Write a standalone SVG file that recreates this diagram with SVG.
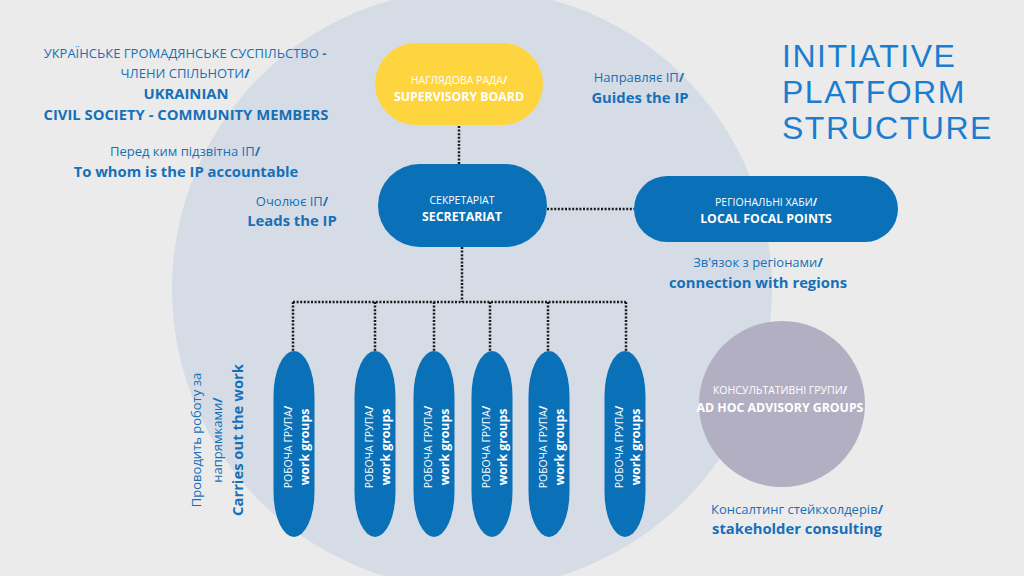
<svg xmlns="http://www.w3.org/2000/svg" width="1024" height="576" viewBox="0 0 1024 576">
<style>
text{font-family:"Open Sans","Liberation Sans",sans-serif;}
.nt{fill:#ffffff;font-size:10.5px;text-anchor:middle;}
.nb{fill:#ffffff;font-size:12.3px;font-weight:700;text-anchor:middle;}
.ct{fill:#1670b8;font-size:13px;text-anchor:middle;}
.cb{fill:#1670b8;font-size:14.8px;font-weight:700;text-anchor:middle;}
.blue{fill:#0a71b8;}
.con{fill:none;stroke:#1a1a1a;stroke-width:2.5;stroke-dasharray:2 1.6;}
.title{fill:#1a7dd0;font-family:"Liberation Sans",Arial,sans-serif;font-size:32px;letter-spacing:1.5px;}
</style>
<rect width="1024" height="576" fill="#ebebeb"/>
<circle cx="472" cy="289" r="300" fill="#d6dce5"/>

<g id="title">
<text class="title" x="782" y="67">INITIATIVE</text>
<text class="title" x="782" y="103">PLATFORM</text>
<text class="title" x="782" y="139">STRUCTURE</text>
</g>

<g id="labels">
<text class="ct" x="185" y="58">УКРАЇНСЬКЕ ГРОМАДЯНСЬКЕ СУСПІЛЬСТВО <tspan font-weight="700">-</tspan></text>
<text class="ct" x="185" y="78">ЧЛЕНИ СПІЛЬНОТИ<tspan font-weight="700">/</tspan></text>
<text class="cb" x="186" y="99">UKRAINIAN</text>
<text class="cb" x="186" y="120">CIVIL SOCIETY - COMMUNITY MEMBERS</text>
<text class="ct" x="185" y="156">Перед ким підзвітна ІП<tspan font-weight="700">/</tspan></text>
<text class="cb" x="186" y="177">To whom is the IP accountable</text>
<text class="ct" x="292" y="206">Очолює ІП<tspan font-weight="700">/</tspan></text>
<text class="cb" x="292" y="226">Leads the IP</text>
<text class="ct" x="639" y="82">Направляє ІП<tspan font-weight="700">/</tspan></text>
<text class="cb" x="640" y="103">Guides the IP</text>
<text class="ct" x="758" y="267">Зв'язок з регіонами<tspan font-weight="700">/</tspan></text>
<text class="cb" x="758" y="288">connection with regions</text>
<text class="ct" x="797" y="514">Консалтинг стейкхолдерів<tspan font-weight="700">/</tspan></text>
<text class="cb" x="797" y="534">stakeholder consulting</text>
<g transform="translate(218,440) rotate(-90)">
<text class="ct" x="0" y="-17">Проводить роботу за</text>
<text class="ct" x="0" y="4">напрямками<tspan font-weight="700">/</tspan></text>
<text class="cb" x="0" y="25" font-size="14">Carries out the work</text>
</g>
</g>

<g id="connectors">
<line class="con" x1="459" y1="126" x2="459" y2="164"/>
<line class="con" x1="547" y1="209" x2="634" y2="209"/>
<line class="con" x1="462" y1="247" x2="462" y2="302"/>
<line class="con" x1="293" y1="302" x2="626" y2="302"/>
<line class="con" x1="293" y1="302" x2="293" y2="352"/>
<line class="con" x1="375" y1="302" x2="375" y2="352"/>
<line class="con" x1="434" y1="302" x2="434" y2="352"/>
<line class="con" x1="490" y1="302" x2="490" y2="352"/>
<line class="con" x1="548" y1="302" x2="548" y2="352"/>
<line class="con" x1="626" y1="302" x2="626" y2="352"/>
</g>

<g id="supervisory-board">
<rect x="375" y="43" width="168" height="82" rx="41" fill="#fed53f"/>
<text class="nt" x="459" y="84">НАГЛЯДОВА РАДА<tspan font-weight="700">/</tspan></text>
<text class="nb" x="459" y="101">SUPERVISORY BOARD</text>
</g>

<g id="secretariat">
<rect class="blue" x="378" y="164" width="169" height="83" rx="41.5"/>
<text class="nt" x="462" y="204">СЕКРЕТАРІАТ</text>
<text class="nb" x="462" y="221">SECRETARIAT</text>
</g>

<g id="regional-hubs">
<rect class="blue" x="634" y="176" width="264" height="66" rx="33"/>
<text class="nt" x="766" y="206">РЕГІОНАЛЬНІ ХАБИ<tspan font-weight="700">/</tspan></text>
<text class="nb" x="766" y="223">LOCAL FOCAL POINTS</text>
</g>

<g id="advisory-groups">
<circle cx="782" cy="404" r="83" fill="#b3afc3"/>
<text class="nt" x="780" y="394">КОНСУЛЬТАТИВНІ ГРУПИ<tspan font-weight="700">/</tspan></text>
<text class="nb" x="780" y="412" font-size="12.8">AD HOC ADVISORY GROUPS</text>
</g>

<g id="work-group-1">
<rect class="blue" x="273.5" y="351" width="41" height="186" rx="20.5" ry="45"/>
<g transform="translate(294,447) rotate(-90)"><text class="nt" x="0" y="-2">РОБОЧА ГРУПА<tspan font-weight="700">/</tspan></text><text class="nb" x="0" y="15" font-size="11.5">work groups</text></g>
</g>
<g id="work-group-2">
<rect class="blue" x="354.5" y="351" width="41" height="186" rx="20.5" ry="45"/>
<g transform="translate(375,447) rotate(-90)"><text class="nt" x="0" y="-2">РОБОЧА ГРУПА<tspan font-weight="700">/</tspan></text><text class="nb" x="0" y="15" font-size="11.5">work groups</text></g>
</g>
<g id="work-group-3">
<rect class="blue" x="413.5" y="351" width="41" height="186" rx="20.5" ry="45"/>
<g transform="translate(434,447) rotate(-90)"><text class="nt" x="0" y="-2">РОБОЧА ГРУПА<tspan font-weight="700">/</tspan></text><text class="nb" x="0" y="15" font-size="11.5">work groups</text></g>
</g>
<g id="work-group-4">
<rect class="blue" x="471.5" y="351" width="41" height="186" rx="20.5" ry="45"/>
<g transform="translate(492,447) rotate(-90)"><text class="nt" x="0" y="-2">РОБОЧА ГРУПА<tspan font-weight="700">/</tspan></text><text class="nb" x="0" y="15" font-size="11.5">work groups</text></g>
</g>
<g id="work-group-5">
<rect class="blue" x="528.5" y="351" width="41" height="186" rx="20.5" ry="45"/>
<g transform="translate(549,447) rotate(-90)"><text class="nt" x="0" y="-2">РОБОЧА ГРУПА<tspan font-weight="700">/</tspan></text><text class="nb" x="0" y="15" font-size="11.5">work groups</text></g>
</g>
<g id="work-group-6">
<rect class="blue" x="604.5" y="351" width="41" height="186" rx="20.5" ry="45"/>
<g transform="translate(625,447) rotate(-90)"><text class="nt" x="0" y="-2">РОБОЧА ГРУПА<tspan font-weight="700">/</tspan></text><text class="nb" x="0" y="15" font-size="11.5">work groups</text></g>
</g>
</svg>
